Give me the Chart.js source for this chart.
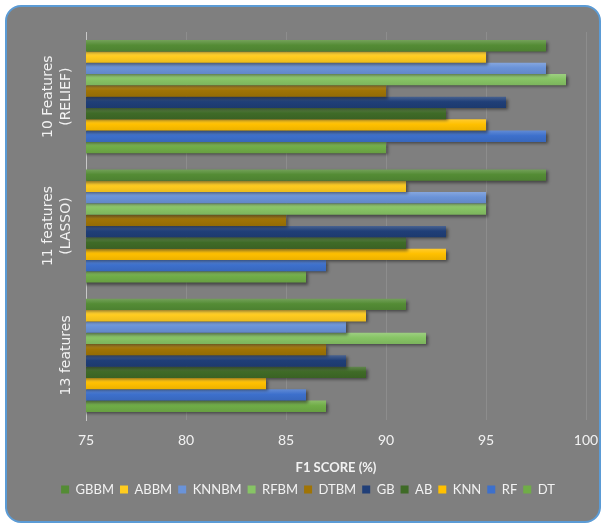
<!DOCTYPE html>
<html>
<head>
<meta charset="utf-8">
<script src="https://cdn.jsdelivr.net/npm/chart.js@4.4.1/dist/chart.umd.min.js"></script>
<style>
  body { margin: 0; background: #fff; }
  .frame {
    position: absolute; left: 5px; top: 5px; width: 592px; height: 514px;
    background: #7f7f7f; border: 2px solid #5b9bd5; border-radius: 16px;
  }
  .wrap { position: absolute; left: 0; top: 0; width: 604px; height: 528px; }
</style>
</head>
<body>
<div class="frame"></div>
<div class="wrap"><canvas id="f1chart"></canvas></div>
<script>
// категории (сверху вниз)
const categories = [['10 Features', '(RELIEF)'], ['11 features', '(LASSO)'], ['13 features']];

// F1 score по моделям
const GBBM  = [98, 98, 91];
const ABBM  = [95, 91, 89];
const KNNBM = [98, 95, 88];
const RFBM  = [99, 95, 92];
const DTBM  = [90, 85, 87];
const GB    = [96, 93, 88];
const AB    = [93, 91, 89];
const KNN   = [95, 93, 84];
const RF    = [98, 87, 86];
const DT    = [90, 86, 87];

const seriesNames = ['GBBM', 'ABBM', 'KNNBM', 'RFBM', 'DTBM', 'GB', 'AB', 'KNN', 'RF', 'DT'];
const seriesData = [GBBM, ABBM, KNNBM, RFBM, DTBM, GB, AB, KNN, RF, DT];
const seriesColors = ['#548c35', '#ffcc1f', '#6a93d8', '#87c465', '#a07405', '#203f78', '#3f6b27', '#ffc000', '#3d70cc', '#70ad47'];

const xTicks = [75, 80, 85, 90, 95, 100];

// осветлить / затемнить цвет (для градиента)
function shade(hex, k) {
    let n = parseInt(hex.slice(1), 16);
    let r = n >> 16, g = (n >> 8) & 255, b = n & 255;
    function f(c) { return Math.max(0, Math.min(255, Math.round(k > 0 ? c + (255 - c) * k : c * (1 + k)))); }
    return 'rgb(' + f(r) + ',' + f(g) + ',' + f(b) + ')';
}

// тень и градиент для столбиков
const barShadow = {
    id: 'barShadow',
    beforeDatasetsDraw(chart) {
        const ctx = chart.ctx;
        chart.data.datasets.forEach(function (ds, i) {
            const base = seriesColors[i];
            chart.getDatasetMeta(i).data.forEach(function (el) {
                const g = ctx.createLinearGradient(0, el.y - el.height / 2, 0, el.y + el.height / 2);
                g.addColorStop(0, shade(base, 0.18));
                g.addColorStop(0.45, base);
                g.addColorStop(1, shade(base, -0.08));
                el.options = Object.assign({}, el.options, { backgroundColor: g });
            });
        });
        ctx.save();
        ctx.shadowColor = 'rgba(0,0,0,0.45)';
        ctx.shadowOffsetX = 2;
        ctx.shadowOffsetY = 2;
        ctx.shadowBlur = 3;
    },
    afterDatasetsDraw(chart) {
        chart.ctx.restore();
    }
};

// повернутые подписи категорий
const catLabels = {
    id: 'catLabels',
    afterDraw(chart) {
        const ctx = chart.ctx;
        const yScale = chart.scales.y;
        ctx.save();
        ctx.fillStyle = '#f2f2f2';
        ctx.font = '14px "DejaVu Sans"';
        ctx.textAlign = 'center';
        ctx.textBaseline = 'middle';
        categories.forEach(function (lines, i) {
            const y = yScale.getPixelForTick(i);
            const lh = 18;
            const right = 66;
            lines.forEach(function (line, j) {
                const x = right - (lines.length - 1 - j) * lh;
                ctx.save();
                ctx.translate(x, y);
                ctx.rotate(-Math.PI / 2);
                ctx.fillText(line, 0, 0);
                ctx.restore();
            });
        });
        ctx.restore();
    }
};

let datasets = seriesNames.map(function (name, i) {
    return {
        label: name,
        data: seriesData[i],
        backgroundColor: seriesColors[i],
        borderWidth: 0,
        barPercentage: 1,
        categoryPercentage: 0.875
    };
});

let myChart = new Chart(document.getElementById('f1chart'), {
    type: 'bar',
    data: {
        labels: categories.map(function (l) { return l.join(' '); }),
        datasets: datasets
    },
    options: {
        indexAxis: 'y',
        responsive: true,
        maintainAspectRatio: false,
        animation: false,
        layout: { padding: { left: 30, right: 18, top: 32, bottom: 22 } },
        scales: {
            x: {
                min: 75,
                max: 100,
                afterBuildTicks: function (scale) {
                    scale.ticks = xTicks.map(function (v) { return { value: v }; });
                },
                afterFit: function (scale) {
                    scale.height = 57;
                    scale.paddingRight = 0;
                    scale.paddingLeft = 0;
                },
                grid: { color: '#8d8d8d', drawTicks: false },
                border: { display: false },
                ticks: {
                    color: '#f2f2f2',
                    padding: 12,
                    font: { family: 'Lato', size: 14 }
                },
                title: {
                    display: true,
                    text: 'F1 SCORE (%)',
                    color: '#f2f2f2',
                    font: { family: 'Lato', size: 13, weight: 'bold' },
                    padding: { top: 0, bottom: 1 }
                }
            },
            y: {
                grid: { display: false },
                border: { color: '#c8c8c8', width: 1 },
                ticks: { display: false },
                afterFit: function (scale) { scale.width = 56; }
            }
        },
        plugins: {
            legend: {
                position: 'bottom',
                labels: {
                    color: '#f2f2f2',
                    boxWidth: 8,
                    boxHeight: 8,
                    padding: 6,
                    font: { family: 'Lato', size: 13 }
                }
            },
            tooltip: { enabled: false }
        }
    },
    plugins: [barShadow, catLabels]
});
</script>
</body>
</html>
